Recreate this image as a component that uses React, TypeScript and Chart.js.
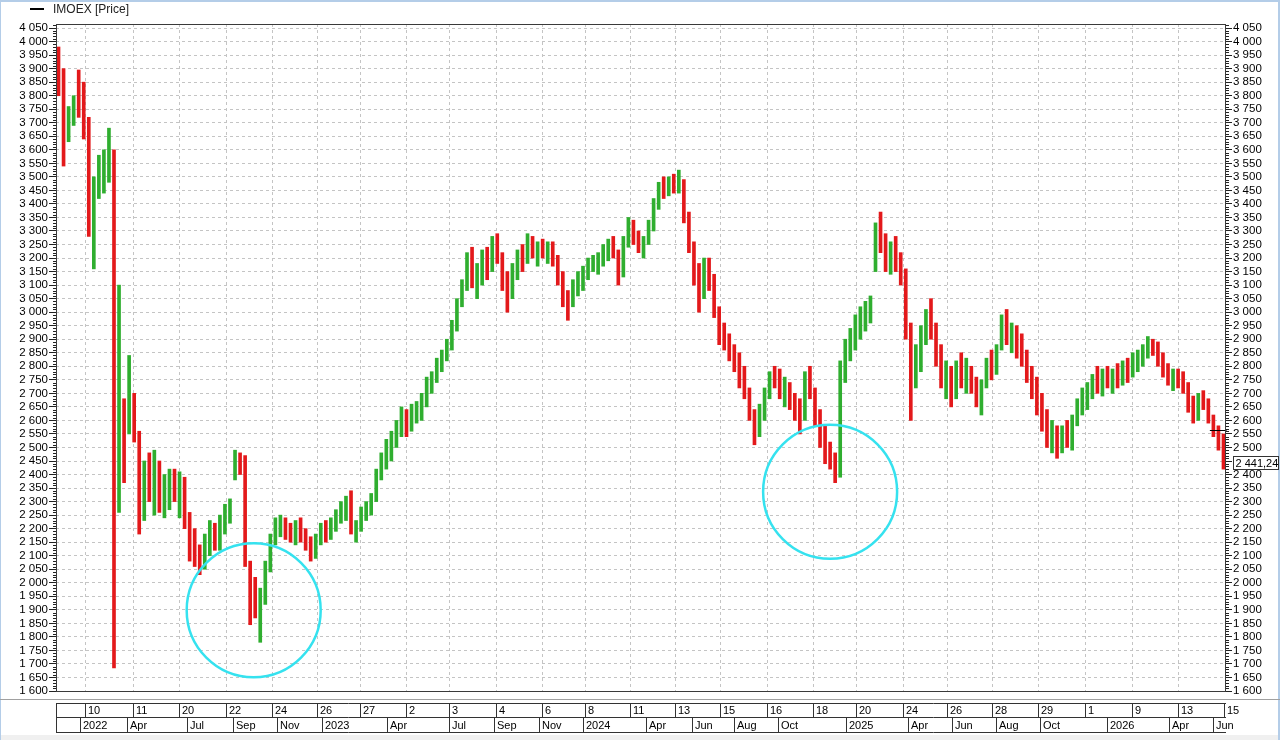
import React, { useEffect, useRef } from 'react';
import { Chart, registerables } from 'chart.js';
Chart.register(...registerables);

// ---- weekly bars (IMOEX) ----
const weekLows = [
  3800,3540,3630,3690,3720,3640,3280,3160,3420,3440,3480,1685,
  2260,2370,2550,2520,2180,2230,2300,2250,2260,2240,2270,2300,
  2240,2200,2080,2060,2030,2050,2100,2120,2120,2180,2220,2380,
  2400,2060,1845,1870,1780,1920,2040,2140,2170,2160,2150,2140,
  2150,2120,2080,2090,2140,2150,2160,2190,2220,2230,2180,2150,
  2190,2230,2250,2300,2380,2420,2450,2500,2540,2540,2560,2590,
  2600,2650,2700,2740,2780,2820,2860,2930,3020,3080,3090,3050,
  3100,3120,3150,3180,3080,3000,3050,3120,3150,3180,3200,3170,
  3200,3180,3170,3100,3020,2970,3020,3060,3080,3120,3150,3140,
  3170,3190,3200,3100,3130,3240,3250,3220,3200,3250,3300,3380,
  3420,3430,3440,3440,3330,3220,3100,3000,3050,3080,2980,2880,
  2860,2820,2780,2720,2680,2600,2510,2540,2600,2680,2720,2680,
  2650,2640,2600,2550,2600,2680,2580,2500,2440,2420,2370,2390,
  2740,2820,2860,2900,2930,2960,3150,3220,3150,3140,3150,3100,
  2900,2600,2720,2780,2880,2900,2800,2720,2680,2650,2680,2720,
  2700,2700,2650,2620,2720,2750,2770,2860,2880,2850,2830,2800,
  2740,2680,2620,2560,2500,2480,2460,2480,2500,2490,2580,2620,
  2640,2680,2700,2690,2720,2700,2720,2730,2740,2760,2780,2800,
  2830,2840,2800,2760,2730,2710,2720,2700,2630,2590,2600,2640,
  2590,2540,2490,2420,
];
const weekHighs = [
  3980,3900,3760,3800,3895,3850,3720,3500,3580,3600,3680,3600,
  3100,2680,2840,2700,2560,2450,2480,2490,2450,2400,2420,2420,
  2410,2390,2260,2200,2140,2180,2230,2220,2250,2290,2310,2490,
  2480,2470,2080,2020,1980,2080,2180,2240,2250,2240,2220,2230,
  2240,2200,2170,2180,2220,2230,2240,2270,2300,2320,2340,2230,
  2280,2300,2330,2420,2480,2530,2560,2600,2650,2640,2660,2670,
  2700,2760,2780,2830,2860,2900,2970,3050,3120,3220,3240,3180,
  3230,3240,3280,3290,3220,3150,3180,3230,3250,3290,3280,3260,
  3270,3260,3260,3210,3150,3080,3120,3150,3170,3200,3210,3220,
  3250,3270,3280,3230,3280,3350,3340,3300,3280,3340,3420,3480,
  3500,3500,3510,3525,3490,3370,3260,3180,3200,3200,3140,3020,
  2960,2920,2880,2850,2800,2720,2640,2660,2720,2780,2800,2790,
  2760,2740,2700,2680,2780,2800,2720,2640,2580,2520,2480,2820,
  2900,2940,2990,3020,3040,3060,3330,3370,3290,3260,3280,3220,
  3160,2960,2880,2950,3010,3050,2960,2880,2820,2800,2820,2850,
  2830,2800,2760,2750,2830,2860,2880,2990,3010,2960,2950,2920,
  2860,2800,2760,2700,2640,2600,2580,2580,2600,2620,2680,2720,
  2740,2770,2800,2790,2800,2790,2810,2820,2830,2850,2860,2880,
  2910,2900,2890,2850,2810,2790,2790,2780,2740,2690,2700,2710,
  2680,2620,2580,2550,
];
const weekCloses = [
  3830,3650,3700,3780,3760,3700,3350,3450,3500,3560,3560,2300,
  2700,2600,2620,2560,2250,2380,2350,2420,2300,2350,2380,2350,
  2380,2230,2120,2100,2080,2150,2200,2150,2220,2260,2300,2470,
  2440,2100,1960,1930,1950,2060,2150,2200,2220,2190,2180,2200,
  2170,2140,2100,2160,2190,2180,2220,2250,2280,2300,2200,2210,
  2260,2280,2320,2400,2460,2500,2540,2580,2620,2580,2620,2640,
  2680,2740,2760,2800,2830,2880,2950,3030,3100,3180,3120,3150,
  3200,3170,3250,3200,3100,3080,3150,3200,3180,3260,3220,3240,
  3210,3240,3190,3120,3050,3040,3100,3120,3150,3170,3180,3200,
  3230,3240,3210,3140,3260,3320,3280,3240,3260,3320,3400,3460,
  3450,3480,3470,3480,3360,3250,3150,3050,3150,3120,3000,2920,
  2900,2850,2820,2760,2700,2620,2560,2640,2700,2760,2740,2700,
  2720,2660,2620,2600,2760,2700,2600,2520,2460,2440,2400,2780,
  2860,2900,2960,2980,3000,3040,3280,3250,3200,3220,3180,3150,
  2950,2780,2820,2920,2980,2940,2840,2760,2780,2700,2780,2760,
  2800,2720,2680,2740,2800,2780,2860,2960,2900,2920,2860,2820,
  2760,2700,2650,2600,2520,2560,2490,2550,2520,2600,2650,2680,
  2700,2740,2720,2760,2740,2770,2760,2800,2780,2820,2840,2860,
  2880,2860,2820,2780,2750,2760,2740,2720,2650,2620,2680,2660,
  2620,2560,2520,2441,
];

// ---- axis texts ----
const dayTickWeeks = [5.75,15.3,24.4,33.7,42.8,51.8,60.3,69.4,77.9,87.2,96.4,104.9,113.8,122.7,131.7,140.9,150.1,158.6,167.9,176.7,185.6,194.7,204,213.4,222.5,231.6];
const dayTickLabels = ['10','11','20','22','24','26','27','2','3','4','6','8','11','13','15','16','18','20','24','26','28','29','1','9','13','15'];
const monthTickWeeks = [4.76,14.08,25.98,35.1,43.8,52.7,65.6,77.9,86.9,95.8,104.4,117,126.2,134.5,143.2,156.7,169,177.7,186.4,195.1,208.4,220.7,229.4];
const monthTickLabels = ['2022','Apr','Jul','Sep','Nov','2023','Apr','Jul','Sep','Nov','2024','Apr','Jun','Aug','Oct','2025','Apr','Jun','Aug','Oct','2026','Apr','Jun'];
const priceTicks: number[] = [];
for (let v = 1600; v <= 4050; v += 50) priceTicks.push(v);
const yMin = 1600;
const yMax = 4065;
const legendText = 'IMOEX [Price]';
const lastValue = 2441.24;
const lastValueText = '2 441,24';
const markerValue = 2565;
const markerWeeks = [228.3, 231.6];
const circleWeeks = [38.7, 153];
const circleValues = [1898, 2336];

const FONT = '"Liberation Sans", Arial, sans-serif';
const FS = 11;
const GREEN = '#2fae2f';
const RED = '#e3191b';

const fmt = (v: number) => {
  const t = Math.floor(v / 1000);
  const r = Math.round(v % 1000);
  return t > 0 ? `${t} ${String(r).padStart(3, '0')}` : String(r);
};

const decorPlugin = {
  id: 'decor',
  beforeDraw(chart: any) {
    const { ctx, width, height } = chart;
    ctx.save();
    ctx.fillStyle = '#ffffff';
    ctx.fillRect(0, 0, width, height);
    ctx.fillStyle = '#f0f0f0';
    ctx.fillRect(0, 735, width, height - 735);
    ctx.fillStyle = '#b4cde8';
    ctx.fillRect(0, 0, width, 2);
    ctx.fillRect(0, 0, 1, height);
    ctx.fillRect(width - 2, 0, 2, height);
    ctx.restore();
  },
  beforeDatasetsDraw(chart: any) {
    const { ctx, chartArea } = chart;
    const xs = chart.scales.x;
    ctx.save();
    ctx.strokeStyle = '#c4c4c4';
    ctx.lineWidth = 1;
    ctx.setLineDash([3, 3]);
    dayTickWeeks.forEach((w) => {
      const x = Math.round(xs.getPixelForValue(w - 0.5)) + 0.5;
      if (x > chartArea.right - 2) return;
      ctx.beginPath();
      ctx.moveTo(x, chartArea.top);
      ctx.lineTo(x, chartArea.bottom);
      ctx.stroke();
    });
    ctx.restore();
  },
  afterDatasetsDraw(chart: any) {
    const { ctx, chartArea } = chart;
    const xs = chart.scales.x;
    const ys = chart.scales.y;
    ctx.save();
    // circles
    ctx.strokeStyle = '#35e2ef';
    ctx.lineWidth = 2.5;
    circleWeeks.forEach((w, i) => {
      ctx.beginPath();
      ctx.arc(xs.getPixelForValue(w), ys.getPixelForValue(circleValues[i]), 67, 0, Math.PI * 2);
      ctx.stroke();
    });
    // marker
    ctx.strokeStyle = '#000';
    ctx.lineWidth = 1;
    const my = Math.round(ys.getPixelForValue(markerValue)) + 0.5;
    ctx.beginPath();
    ctx.moveTo(xs.getPixelForValue(markerWeeks[0]), my);
    ctx.lineTo(xs.getPixelForValue(markerWeeks[1]), my);
    ctx.stroke();
    // plot border
    ctx.strokeStyle = '#3a3a3a';
    ctx.strokeRect(chartArea.left + 0.5, chartArea.top + 0.5, chartArea.right - chartArea.left - 1, chartArea.bottom - chartArea.top);
    // minor ticks
    ctx.strokeStyle = '#222';
    for (let v = yMin + 10; v < yMax; v += 10) {
      if (v % 50 === 0) continue;
      const y = Math.round(ys.getPixelForValue(v)) + 0.5;
      ctx.beginPath();
      ctx.moveTo(chartArea.left - 3, y);
      ctx.lineTo(chartArea.left, y);
      ctx.moveTo(chartArea.right, y);
      ctx.lineTo(chartArea.right + 3, y);
      ctx.stroke();
    }
    // separator
    ctx.strokeStyle = '#a0a0a0';
    ctx.beginPath();
    ctx.moveTo(0, 699.5);
    ctx.lineTo(chart.width, 699.5);
    ctx.stroke();
    // date boxes
    const left = chartArea.left;
    const right = chartArea.right;
    ctx.strokeStyle = '#333';
    ctx.beginPath();
    [703.5, 717.5, 732.5].forEach((y) => {
      ctx.moveTo(left, y);
      ctx.lineTo(right, y);
    });
    ctx.moveTo(left + 0.5, 703);
    ctx.lineTo(left + 0.5, 733);
    dayTickWeeks.forEach((w) => {
      const x = Math.round(xs.getPixelForValue(w - 0.5)) + 0.5;
      ctx.moveTo(x, 703);
      ctx.lineTo(x, 718);
    });
    monthTickWeeks.forEach((w) => {
      const x = Math.round(xs.getPixelForValue(w - 0.5)) + 0.5;
      ctx.moveTo(x, 717);
      ctx.lineTo(x, 733);
    });
    ctx.stroke();
    ctx.fillStyle = '#000';
    ctx.font = `${FS}px ${FONT}`;
    ctx.textBaseline = 'middle';
    ctx.textAlign = 'left';
    dayTickWeeks.forEach((w, i) => {
      const x = Math.round(xs.getPixelForValue(w - 0.5));
      ctx.fillText(dayTickLabels[i], x + 3, 711);
    });
    monthTickWeeks.forEach((w, i) => {
      const x = Math.round(xs.getPixelForValue(w - 0.5));
      ctx.fillText(monthTickLabels[i], x + 3, 725.5);
    });
    // legend
    ctx.strokeStyle = '#000';
    ctx.lineWidth = 2;
    ctx.beginPath();
    ctx.moveTo(30, 9);
    ctx.lineTo(44, 9);
    ctx.stroke();
    ctx.fillStyle = '#222';
    ctx.font = `12px ${FONT}`;
    ctx.fillText(legendText, 53, 9.5);
    // last value box
    ctx.font = `${FS}px ${FONT}`;
    const ly = Math.round(ys.getPixelForValue(lastValue));
    ctx.lineWidth = 1;
    ctx.fillStyle = '#fff';
    ctx.fillRect(1233.5, ly - 6.5, 45, 13);
    ctx.strokeStyle = '#333';
    ctx.strokeRect(1233.5, ly - 6.5, 45, 13);
    ctx.fillStyle = '#000';
    ctx.fillText(lastValueText, 1235.5, ly + 0.5);
    ctx.restore();
  },
};

export default function App() {
  const ref = useRef<HTMLCanvasElement>(null);
  useEffect(() => {
    document.body.style.margin = '0';
    const labels = weekCloses.map((_, i) => `W${i + 1}`);
    const colors = weekCloses.map((c, i) => (i === 0 ? RED : c >= weekCloses[i - 1] ? GREEN : RED));
    const yCommon = {
      type: 'linear' as const,
      min: yMin,
      max: yMax,
      afterBuildTicks: (s: any) => {
        s.ticks = priceTicks.map((v) => ({ value: v }));
      },
      ticks: {
        autoSkip: false,
        color: '#000',
        font: { family: FONT, size: 11.5 },
        padding: 1,
        callback: (v: any) => fmt(Number(v)),
      },
    };
    const chart = new Chart(ref.current!, {
      type: 'bar',
      data: {
        labels,
        datasets: [
          {
            label: legendText,
            data: weekLows.map((l, i) => [l, weekHighs[i]]),
            backgroundColor: colors,
            borderWidth: 0,
            barThickness: 3,
          },
        ],
      },
      plugins: [decorPlugin],
      options: {
        responsive: false,
        animation: false,
        devicePixelRatio: 1,
        layout: { padding: { top: 24, bottom: 49, left: 0, right: 0 } },
        plugins: { legend: { display: false }, tooltip: { enabled: false }, title: { display: false } },
        scales: {
          x: { display: false, offset: true },
          y: {
            ...yCommon,
            position: 'left',
            afterFit: (s: any) => {
              s.width = 56;
            },
            grid: { color: '#c4c4c4', tickColor: '#222', tickLength: 7, drawTicks: true },
            border: { display: false, dash: [3, 3] },
          },
          y2: {
            ...yCommon,
            position: 'right',
            afterFit: (s: any) => {
              s.width = 54;
            },
            grid: { drawOnChartArea: false, tickColor: '#222', tickLength: 6, drawTicks: true },
            border: { display: false },
          },
        },
      },
    });
    return () => chart.destroy();
  }, []);
  return (
    <div style={{ position: 'fixed', left: 0, top: 0, width: 1280, height: 740, background: '#fff' }}>
      <canvas ref={ref} width={1280} height={740} />
    </div>
  );
}
